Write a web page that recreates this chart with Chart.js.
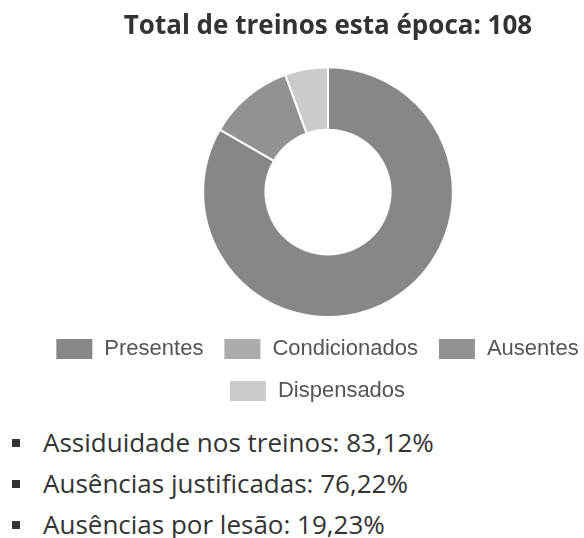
<!DOCTYPE html>
<html>
<head>
<meta charset="utf-8">
<script src="https://cdn.jsdelivr.net/npm/chart.js@4.4.0/dist/chart.umd.min.js"></script>
<style>
  html, body {
    margin: 0;
    padding: 0;
    background: #fff;
    overflow: hidden;
  }
  #wrap {
    position: relative;
    margin-left: 38px;
    width: 580px;
    height: 412px;
  }
  ul.stats {
    margin: 10px 0 0 0;
    padding: 0;
    list-style: none;
    font-family: "Open Sans", sans-serif;
    font-size: 26px;
    line-height: 41px;
    color: #333;
  }
  ul.stats li {
    position: relative;
    padding-left: 43px;
  }
  ul.stats li::before {
    content: "";
    position: absolute;
    left: 12px;
    top: 17px;
    width: 8px;
    height: 8px;
    background: #333;
  }
</style>
</head>
<body>
<div id="wrap"><canvas id="chart" width="580" height="412"></canvas></div>
<ul class="stats" id="stats"></ul>

<script>
const totalTrainings = 108;
const labels = ["Presentes", "Condicionados", "Ausentes", "Dispensados"];
const counts = [90, 0, 12, 6];
const colors = ["#878787", "#ababab", "#929292", "#cbcbcb"];

const statLabels = ["Assiduidade nos treinos", "Ausências justificadas", "Ausências por lesão"];
const statValues = ["83,12%", "76,22%", "19,23%"];

const list = document.getElementById("stats");
statLabels.forEach((label, i) => {
    const li = document.createElement("li");
    li.textContent = label + ": " + statValues[i];
    list.appendChild(li);
});

// legend sits a bit left of the doughnut in the original
const legendShift = {
    id: "legendShift",
    afterLayout(chart) {
        chart.legend.left -= 11;
        chart.legend.right -= 11;
    },
};

const data = {
    labels: labels,
    datasets: [
        {
            data: counts,
            backgroundColor: colors,
            borderColor: "#fff",
            borderWidth: 2,
        },
    ],
};

const options = {
    responsive: false,
    animation: false,
    cutout: "50%",
    plugins: {
        title: {
            display: true,
            text: "Total de treinos esta época: " + totalTrainings,
            color: "#333",
            font: {
                family: "'Open Sans', sans-serif",
                size: 26,
                weight: "bold",
            },
            padding: { top: 11, bottom: 24 },
        },
        legend: {
            position: "bottom",
            labels: {
                color: "#555",
                boxWidth: 38,
                boxHeight: 22,
                padding: 20,
                font: {
                    family: "'Liberation Sans', Arial, sans-serif",
                    size: 22,
                },
            },
        },
        tooltip: { enabled: false },
    },
};

new Chart(document.getElementById("chart"), {
    type: "doughnut",
    data: data,
    options: options,
    plugins: [legendShift],
});
</script>
</body>
</html>
